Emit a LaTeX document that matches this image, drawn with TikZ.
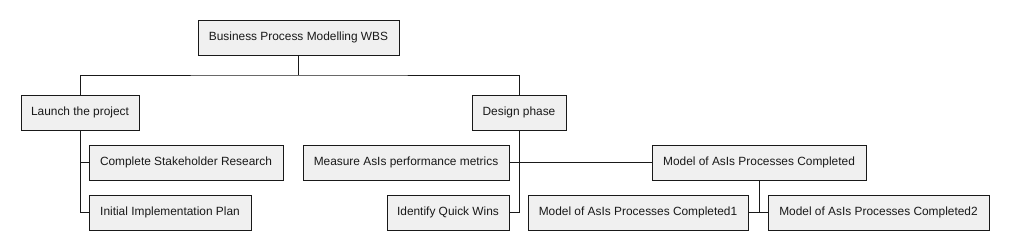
\documentclass[tikz,border=0pt]{standalone}
\usepackage{fontspec}
\setmainfont{Liberation Sans}
\begin{document}
\begin{tikzpicture}[x=1pt,y=-1pt,
  wbs/.style={draw=black!90,fill=black!6,line width=1pt,minimum height=35pt,inner sep=0pt,font=\fontsize{11.9}{14}\selectfont,text=black!90},
  conn/.style={draw=black!90,line width=1pt}]
\useasboundingbox (0,0) rectangle (1009,250);
\node[wbs,minimum width=201pt] (root) at (298.5,37.5) {Business Process Modelling WBS};
\node[wbs,minimum width=118pt] (launch) at (80,112.5) {Launch the project};
\node[wbs,minimum width=94pt] (design) at (519,112.5) {Design phase};
\node[wbs,minimum width=194pt] (csr) at (186,162.5) {Complete Stakeholder Research};
\node[wbs,minimum width=162pt] (iip) at (170,212.5) {Initial Implementation Plan};
\node[wbs,minimum width=206pt] (mam) at (406,162.5) {Measure AsIs performance metrics};
\node[wbs,minimum width=122pt] (iqw) at (448,212.5) {Identify Quick Wins};
\node[wbs,minimum width=214pt] (model) at (759,162.5) {Model of AsIs Processes Completed};
\node[wbs,minimum width=220pt] (m1) at (638,212.5) {Model of AsIs Processes Completed1};
\node[wbs,minimum width=221pt] (m2) at (878.5,212.5) {Model of AsIs Processes Completed2};
\coordinate (bus) at (298.5,75);
\draw[conn] (root.south) -- (bus);
\draw[conn] (launch.north) |- (bus) -| (design.north);
\draw[conn] (launch.south) |- (csr.west);
\draw[conn] (launch.south) |- (iip.west);
\draw[conn] (design.south) |- (mam.east);
\draw[conn] (design.south) |- (iqw.east);
\draw[conn] (mam.east) -- (model.west);
\draw[conn] (model.south) |- (m1.east);
\draw[conn] (model.south) |- (m2.west);
\end{tikzpicture}
\end{document}
